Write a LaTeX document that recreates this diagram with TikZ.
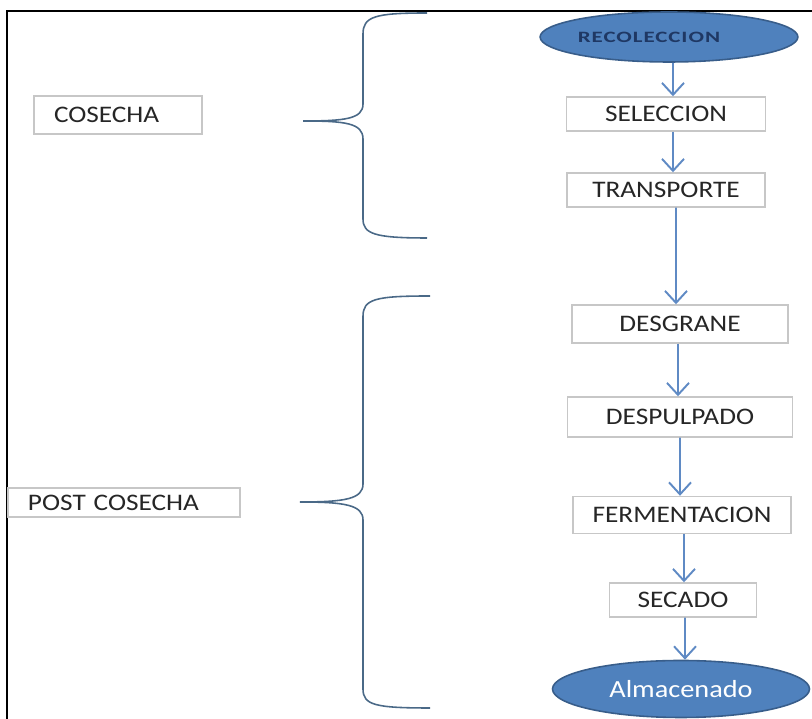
\documentclass[tikz,border=0pt]{standalone}
\usepackage{fontspec}
\setmainfont{Carlito}[FakeStretch=1.15]
\usetikzlibrary{arrows.meta,positioning,shapes.geometric}
\definecolor{accblue}{RGB}{79,129,189}
\definecolor{accdark}{RGB}{56,93,138}
\definecolor{navytext}{RGB}{31,56,100}
\definecolor{bracegray}{RGB}{74,105,135}
\definecolor{arrowblue}{RGB}{95,138,196}

\begin{document}
\begin{tikzpicture}[
    stage/.style={draw=black!22, line width=0.8pt, fill=white, inner ysep=1pt, font=\fontsize{13.5}{15}\selectfont, text=black!85},
    phase/.style={draw=black!22, line width=0.8pt, fill=white, inner xsep=0.4cm, inner ysep=1pt, align=left, font=\fontsize{13.5}{15}\selectfont, text=black!85},
    term/.style={ellipse, draw=accdark, line width=0.9pt, fill=accblue, inner sep=0pt},
    flow/.style={-{Straight Barb[length=2.4mm,width=4.4mm]}, line width=1.1pt, arrowblue},
    curly/.style={line width=0.9pt, bracegray}
  ]
    \useasboundingbox (0,0) rectangle (16.24,14.38);
    \draw[line width=1.2pt] (0.14,0) -- (0.14,14.16) -- (16.24,14.16);

    % braces
    \draw[curly] (8.54,14.12) .. controls (7.5,14.12) and (7.26,14.05) .. (7.26,13.7) -- (7.26,12.3)
      .. controls (7.26,12.0) and (6.9,11.96) .. (6.06,11.96)
      .. controls (6.9,11.96) and (7.26,11.92) .. (7.26,11.6) -- (7.26,10.0)
      .. controls (7.26,9.7) and (7.5,9.62) .. (8.54,9.62);
    \draw[curly] (8.6,8.46) .. controls (7.5,8.46) and (7.26,8.4) .. (7.26,8.05) -- (7.26,4.7)
      .. controls (7.26,4.4) and (6.9,4.34) .. (6.0,4.34)
      .. controls (6.9,4.34) and (7.26,4.28) .. (7.26,3.98) -- (7.26,0.6)
      .. controls (7.26,0.28) and (7.5,0.22) .. (8.6,0.22);

    \node[phase, text width=2.56cm, minimum height=0.76cm] (cos) at (2.36,12.08) {COSECHA};
    \node[phase, text width=3.84cm, minimum height=0.58cm] (pos) at (2.48,4.33) {POST COSECHA};

    \node[term, minimum width=4.96cm, minimum height=1.0cm, text=navytext,
      font=\bfseries\fontsize{9}{10}\selectfont\addfontfeature{FakeStretch=1.45,LetterSpace=6}] (rec) at (13.38,13.64) {RECOLECCION\hspace*{0.8cm}};
    \node[stage, minimum width=3.98cm, minimum height=0.68cm] (sel) at (13.32,12.10) {SELECCION};
    \node[stage, minimum width=3.96cm, minimum height=0.68cm] (tra) at (13.32,10.58) {TRANSPORTE};
    \node[stage, minimum width=4.32cm, minimum height=0.76cm] (des) at (13.6,7.90) {DESGRANE};
    \node[stage, minimum width=4.5cm, minimum height=0.8cm] (dsp) at (13.6,6.04) {DESPULPADO};
    \node[stage, minimum width=4.36cm, minimum height=0.74cm] (fer) at (13.64,4.08) {FERMENTACION};
    \node[stage, minimum width=2.94cm, minimum height=0.68cm] (sec) at (13.66,2.38) {SECADO};
    \node[term, minimum width=5.14cm, minimum height=1.14cm, text=white,
      font=\fontsize{14}{16}\selectfont] (alm) at (13.62,0.60) {Almacenado};

    \draw[flow] ([xshift=0.8mm]rec.south) -- ([xshift=1.4mm]sel.north);
    \draw[flow] ([xshift=1.4mm]sel.south) -- ([xshift=1.4mm]tra.north);
    \draw[flow] ([xshift=2mm]tra.south) -- ([xshift=-0.8mm]des.north);
    \draw[flow] ([xshift=-0.4mm]des.south) -- ([xshift=-0.4mm]dsp.north);
    \draw[flow] (dsp.south) -- ([xshift=-0.4mm]fer.north);
    \draw[flow] ([xshift=0.4mm]fer.south) -- ([xshift=0.2mm]sec.north);
    \draw[flow] ([xshift=0.4mm]sec.south) -- ([xshift=0.8mm]alm.north);
  \end{tikzpicture}
\end{document}
